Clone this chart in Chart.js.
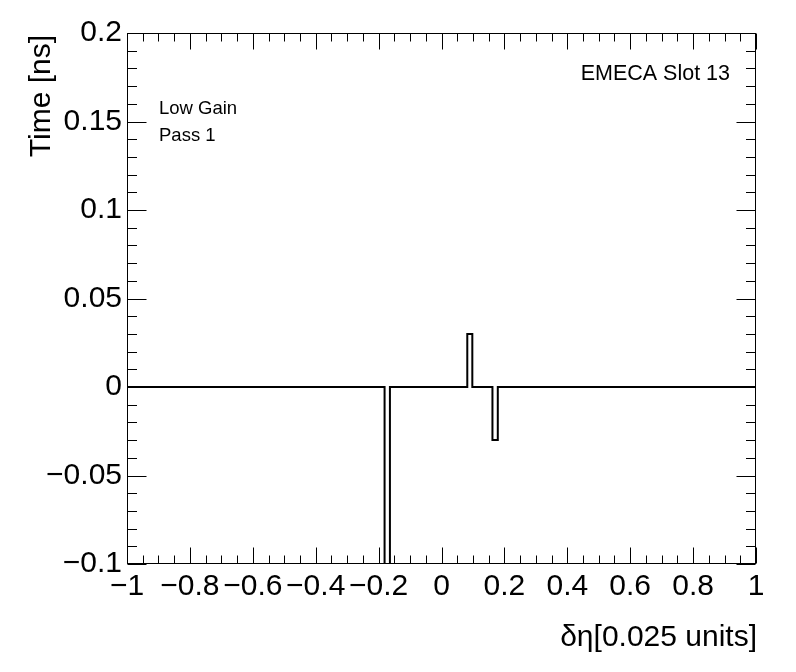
<!DOCTYPE html>
<html>
<head>
<meta charset="utf-8">
<script src="https://cdn.jsdelivr.net/npm/chart.js@4"></script>
<style>
html,body{margin:0;padding:0;background:#fff;}
#wrap{width:796px;height:672px;position:relative;}
</style>
</head>
<body>
<div id="wrap"><canvas id="c" width="796" height="672"></canvas></div>
<script>
// Histogram bin edges (δη) and bin contents (Time [ns])
const binEdges  = [-1, -0.181, -0.164, 0.082, 0.098, 0.162, 0.179, 1];
const binValues = [0, -0.15, 0, 0.03, 0, -0.03, 0];
// Axis ranges / tick steps
const xRange = [-1, 1];
const yRange = [-0.1, 0.2];
const xMajorStep = 0.2, xMinorStep = 0.05;
const yMajorStep = 0.05, yMinorStep = 0.01;
// Texts
const xTitle = "δη[0.025 units]";
const yTitle = "Time [ns]";
const labelRight = "EMECA Slot 13";
const labelLeft = ["Low Gain", "Pass 1"];

const FONT = "'Liberation Sans', Arial, Helvetica, sans-serif";

const points = binEdges.map((e, i) => ({x: e, y: binValues[Math.min(i, binValues.length - 1)]}));

function fmt(v) {
  const r = Math.round(v * 10000) / 10000;
  if (r === 0) return "0";
  return String(r).replace("-", "\u2212");
}

const frameTicks = {
  id: 'frameTicks',
  afterDraw(chart) {
    const ctx = chart.ctx, a = chart.chartArea;
    const xs = chart.scales.x, ys = chart.scales.y;
    ctx.save();
    ctx.strokeStyle = '#000';
    ctx.lineWidth = 1;
    const L = Math.round(a.left) + 0.5, R = Math.round(a.right) - 0.5;
    const T = Math.round(a.top) + 0.5, B = Math.round(a.bottom) - 0.5;
    ctx.strokeRect(L, T, R - L, B - T);
    ctx.beginPath();
    const nx = Math.round((xRange[1] - xRange[0]) / xMinorStep);
    const ratioX = Math.round(xMajorStep / xMinorStep);
    for (let i = 0; i <= nx; i++) {
      const v = xRange[0] + i * xMinorStep;
      const px = Math.round(xs.getPixelForValue(v)) + 0.5;
      const len = (i % ratioX === 0) ? 16 : 8;
      ctx.moveTo(px, B); ctx.lineTo(px, B - len);
      ctx.moveTo(px, T); ctx.lineTo(px, T + len);
    }
    const ny = Math.round((yRange[1] - yRange[0]) / yMinorStep);
    const ratioY = Math.round(yMajorStep / yMinorStep);
    for (let i = 0; i <= ny; i++) {
      const v = yRange[0] + i * yMinorStep;
      const py = Math.round(ys.getPixelForValue(v)) + 0.5;
      const len = (i % ratioY === 0) ? 19 : 9.5;
      ctx.moveTo(L, py); ctx.lineTo(L + len, py);
      ctx.moveTo(R, py); ctx.lineTo(R - len, py);
    }
    ctx.stroke();

    ctx.fillStyle = '#000';
    // axis titles
    ctx.font = "30px " + FONT;
    ctx.textAlign = 'right';
    ctx.textBaseline = 'alphabetic';
    ctx.fillText(xTitle, 757, 646);
    ctx.save();
    ctx.translate(50, 35);
    ctx.rotate(-Math.PI / 2);
    ctx.fillText(yTitle, 0, 0);
    ctx.restore();
    // annotations
    ctx.font = "21.5px " + FONT;
    ctx.textAlign = 'right';
    ctx.fillText(labelRight, 730, 80);
    ctx.font = "18.5px " + FONT;
    ctx.textAlign = 'left';
    ctx.fillText(labelLeft[0], 159, 114);
    ctx.fillText(labelLeft[1], 159, 141);
    ctx.restore();
  }
};

new Chart(document.getElementById('c'), {
  type: 'line',
  data: {
    datasets: [{
      data: points,
      stepped: 'before',
      borderColor: '#000',
      borderWidth: 2,
      pointRadius: 0,
      fill: false,
      clip: 0,
      tension: 0
    }]
  },
  options: {
    responsive: false,
    animation: false,
    events: [],
    layout: {padding: {top: 33, right: 40, left: 0, bottom: 0}},
    plugins: {legend: {display: false}, tooltip: {enabled: false}, title: {display: false}},
    scales: {
      x: {
        type: 'linear',
        min: xRange[0], max: xRange[1],
        grid: {display: false, drawTicks: false},
        border: {display: false},
        ticks: {
          stepSize: xMajorStep, autoSkip: false, maxRotation: 0, padding: 5,
          color: '#000', font: {family: FONT, size: 30},
          callback: v => fmt(v)
        },
        afterFit: s => { s.height = 108; }
      },
      y: {
        type: 'linear',
        min: yRange[0], max: yRange[1],
        grid: {display: false, drawTicks: false},
        border: {display: false},
        ticks: {
          stepSize: yMajorStep, autoSkip: false, padding: 5,
          color: '#000', font: {family: FONT, size: 30},
          callback: v => fmt(v)
        },
        afterFit: s => { s.width = 127; }
      }
    }
  },
  plugins: [frameTicks]
});
</script>
</body>
</html>
